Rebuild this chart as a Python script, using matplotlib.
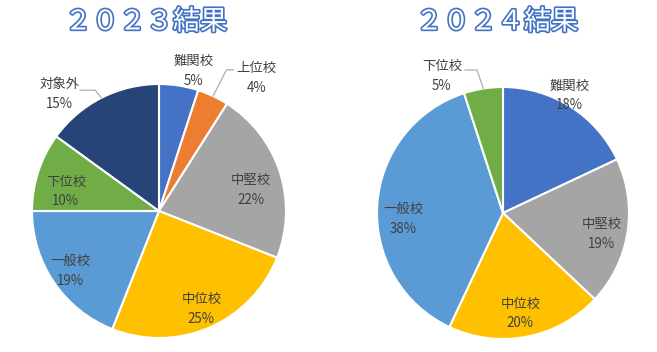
# two pie charts: 2023 / 2024 results
import numpy as np
import matplotlib.pyplot as plt
import matplotlib.patheffects as pe

plt.rcParams['font.family'] = ['Noto Sans CJK JP', 'DejaVu Sans']

labels_2023 = ['難関校', '上位校', '中堅校', '中位校', '一般校', '下位校', '対象外']
values_2023 = [5, 4, 22, 25, 19, 10, 15]
labels_2024 = ['難関校', '中堅校', '中位校', '一般校', '下位校']
values_2024 = [18, 19, 20, 38, 5]

palette = {'難関校': '#4472C4', '上位校': '#ED7D31', '中堅校': '#A5A5A5',
           '中位校': '#FFC000', '一般校': '#5B9BD5', '下位校': '#70AD47',
           '対象外': '#264478'}

W, H = 657, 352
fig = plt.figure(figsize=(W / 100, H / 100), dpi=100)
ax = fig.add_axes([0, 0, 1, 1])


def draw_pie(labels, values, center, radius, dist, shift, outside):
    colors = [palette[l] for l in labels]
    ax.pie(values, colors=colors, startangle=90, counterclock=False,
           center=center, radius=radius, frame=True,
           wedgeprops=dict(edgecolor='white', linewidth=1.5))
    total = sum(values)
    cum = np.cumsum([0] + values)
    for i, (lab, v) in enumerate(zip(labels, values)):
        mid = 90 - 360 * (cum[i] + v / 2) / total
        a = np.radians(mid + shift[i])
        x = center[0] + dist[i] * radius * np.cos(a)
        y = center[1] + dist[i] * radius * np.sin(a)
        ax.text(x, y, '{}\n{}%'.format(lab, v), ha='center', va='center',
                fontsize=9.6, color='#404040', linespacing=1.5)
        if outside[i]:
            # leader line: short stub next to the label, then down to the wedge
            am = np.radians(mid)
            ex = center[0] + radius * np.cos(am)
            ey = center[1] + radius * np.sin(am)
            sx = x + outside[i][0]
            sy = y + outside[i][1]
            ax.plot([sx + outside[i][2], sx, ex], [sy, sy, ey],
                    color='#A6A6A6', lw=0.8)


draw_pie(labels_2023, values_2023, (159, H - 211), 127,
         [1.135, 1.30, 0.74, 0.84, 0.84, 0.75, 1.21],
         [-5, -11, -5, 0, 0, 6, 13.5],
         [None, (-30, 8, 7), None, None, None, None, (36, 4, -15)])
draw_pie(labels_2024, values_2024, (503, H - 213), 126,
         [1.07, 0.80, 0.81, 0.79, 1.19],
         [3, -3, -1, 7, 15],
         [None, None, None, None, (35, 6, -12)])
ax.set_xlim(0, W)
ax.set_ylim(0, H)
ax.set_aspect('equal')
ax.axis('off')

title_fx = [pe.Stroke(linewidth=2.4, foreground='#4472C4'), pe.Normal()]
ax.text(146, H - 22, '２０２３結果', ha='center', va='center', fontsize=19.5,
        color='white', path_effects=title_fx)
ax.text(497, H - 22, '２０２４結果', ha='center', va='center', fontsize=19.5,
        color='white', path_effects=title_fx)

fig.savefig('out.png', dpi=100, facecolor='white')
